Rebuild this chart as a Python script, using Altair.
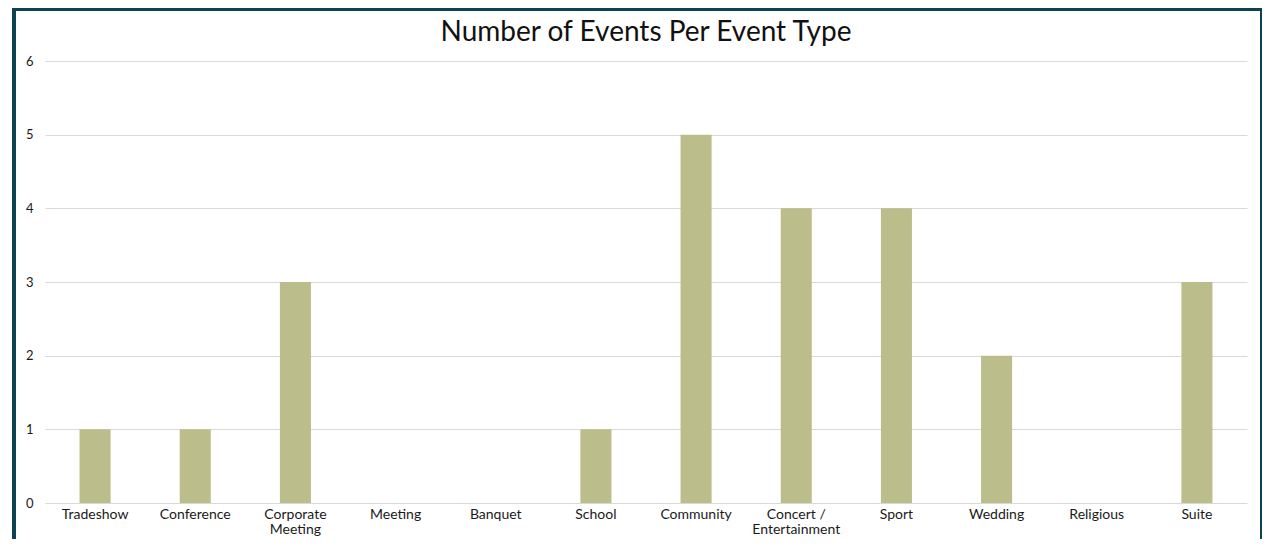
import altair as alt
import pandas as pd

categories = ["Tradeshow", "Conference", "Corporate Meeting", "Meeting", "Banquet",
              "School", "Community", "Concert / Entertainment", "Sport", "Wedding",
              "Religious", "Suite"]
counts = [1, 1, 3, 0, 0, 1, 5, 4, 4, 2, 0, 3]

df = pd.DataFrame({"Event Type": categories, "Events": counts})

FONT = "Lato"
W, H = 1202, 442

label_expr = ("datum.label == 'Corporate Meeting' ? ['Corporate', 'Meeting'] : "
              "datum.label == 'Concert / Entertainment' ? ['Concert /', 'Entertainment'] : datum.label")

bars = alt.Chart(df).mark_bar(color="#BBBD8B").encode(
    x=alt.X("Event Type:N", sort=categories, title=None,
            scale=alt.Scale(paddingInner=0.69, paddingOuter=0.345),
            axis=alt.Axis(labelAngle=0, labelExpr=label_expr, domain=False, ticks=False,
                          labelPadding=4, labelFontSize=14, labelFont=FONT,
                          labelColor="#1a1a1a", labelLineHeight=15)),
    y=alt.Y("Events:Q", title=None,
            scale=alt.Scale(domain=[0, 6], nice=False),
            axis=alt.Axis(values=[0, 1, 2, 3, 4, 5, 6], domain=False, ticks=False,
                          labelPadding=12, labelFontSize=13, labelFont=FONT,
                          labelColor="#1a1a1a", gridColor="#d9d9d9", gridWidth=1)),
)

frame_df = pd.DataFrame({"k": [0]})
frame = alt.Chart(frame_df).mark_rect(fill=None, stroke="#0d4350", strokeWidth=4).encode(
    x=alt.value(-31), x2=alt.value(W + 15), y=alt.value(-52), y2=alt.value(H + 60)
)

chart = alt.layer(bars, frame).properties(
    width=W, height=H,
    title=alt.TitleParams("Number of Events Per Event Type", font=FONT, fontSize=28,
                          fontWeight="normal", color="#111111", anchor="middle",
                          offset=0, dy=40),
    autosize=alt.AutoSizeParams(type="none"),
    padding={"left": 37, "top": 53, "right": 15, "bottom": 36},
).configure(background="white").configure_view(strokeWidth=0, stroke=None)

chart.save("out.html", embed_options={"renderer": "svg", "actions": False})
